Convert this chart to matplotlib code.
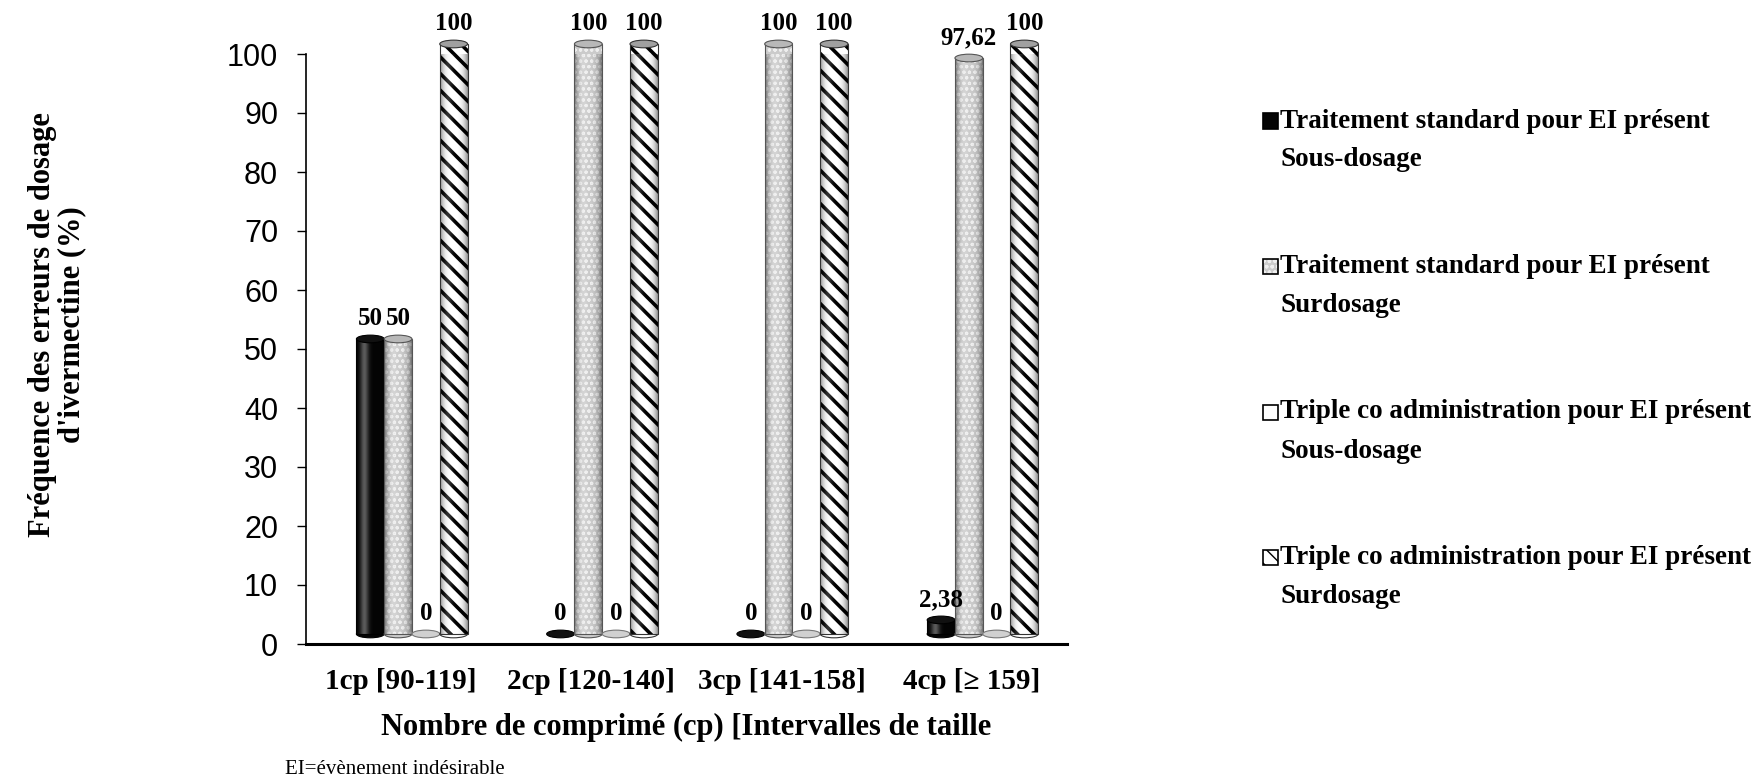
import numpy as np
import matplotlib
matplotlib.use('Agg')
import matplotlib.pyplot as plt
from matplotlib.patches import Ellipse, Rectangle

# data
categories = ['1cp [90-119]', '2cp [120-140]', '3cp [141-158]', '4cp [≥ 159]']
std_sous = [50, 0, 0, 2.38]
std_sur = [50, 100, 100, 97.62]
triple_sous = [0, 0, 0, 0]
triple_sur = [100, 100, 100, 100]
series_labels = [
    'Traitement standard pour EI présent\nSous-dosage',
    'Traitement standard pour EI présent\nSurdosage',
    'Triple co administration pour EI présent\nSous-dosage',
    'Triple co administration pour EI présent\nSurdosage',
]
series_values = [std_sous, std_sur, triple_sous, triple_sur]

SERIF = 'Liberation Serif'
SANS = 'Liberation Sans'

# look of each cylinder series: face, hatch, hatch colour, top colour, edge
styles = [
    dict(face='#050505', hatch=None, hcol=None, top='#111111', edge='#000000', light=0.35),
    dict(face='#cbcbcb', hatch='ooo', hcol='#eeeeee', top='#b8b8b8', edge='#555555', light=0.25),
    dict(face='#ffffff', hatch=None, hcol=None, top='#d0d0d0', edge='#777777', light=0.0),
    dict(face='#ffffff', hatch='\\\\', hcol='#000000', top='#a0a0a0', edge='#333333', light=0.2),
]

bw = 0.146          # bar width in category units
shift = 0.057       # 3d depth shift of the group
depth = 1.7         # 3d lift of the cylinders
ell_h = 1.3         # height of the ellipses in data units


def shade(ax, patch, x0, x1, y0, y1, light, z):
    t = np.linspace(-1, 1, 90)
    dark = np.zeros((1, 90, 4))
    dark[..., 3] = 0.45 * np.abs(t) ** 3
    hi = np.ones((1, 90, 4))
    hi[..., 3] = light * np.exp(-((t + 0.4) / 0.3) ** 2)
    for img in (dark, hi):
        im = ax.imshow(img, extent=[x0, x1, y0, y1], aspect='auto',
                       interpolation='bilinear', zorder=z + 0.1)
        im.set_clip_path(patch)
        im.set_clip_box(None)


fig = plt.figure(figsize=(17.56, 7.80), dpi=100)
ax = fig.add_axes([306 / 1756, 136 / 780, 761 / 1756, 590 / 780])

x = np.arange(len(categories))
for k, (vals, st) in enumerate(zip(series_values, styles)):
    xs = x + shift + (k - 1.5) * bw
    z = 2 + k
    bars = ax.bar(xs, vals, width=bw, bottom=depth, color=st['face'],
                  edgecolor=st['hcol'] if st['hatch'] else st['edge'],
                  hatch=st['hatch'], linewidth=0, zorder=z, clip_on=False)
    for b, v, xc in zip(bars, vals, xs):
        if st['hatch'] and hasattr(b, 'set_hatch_linewidth'):
            b.set_hatch_linewidth(2.6 if st['hatch'].startswith('\\') else 0.8)
        # bottom ellipse
        ax.add_patch(Ellipse((xc, depth), bw, ell_h, facecolor=st['face'] if v > 0 else st['top'],
                             edgecolor=st['edge'], linewidth=0.8, zorder=z - 0.5, clip_on=False))
        if v > 0:
            ax.add_patch(Rectangle((xc - bw / 2, depth), bw, v, fill=False,
                                   edgecolor=st['edge'], linewidth=0.8, zorder=z + 0.2, clip_on=False))
            shade(ax, b, xc - bw / 2, xc + bw / 2, depth, depth + v, st['light'], z)
            ax.add_patch(Ellipse((xc, depth + v), bw, ell_h, facecolor=st['top'],
                                 edgecolor=st['edge'], linewidth=0.8, zorder=z + 0.3, clip_on=False))
        txt = f'{v:g}'.replace('.', ',')
        ax.annotate(txt, (xc, v), xytext=(0, 22), textcoords='offset points',
                    ha='center', va='center', fontsize=18, fontweight='bold',
                    family=SERIF, zorder=10, annotation_clip=False)

ax.set_xlim(-0.5, 3.5)
ax.set_ylim(0, 100)
ax.set_yticks(np.arange(0, 101, 10))
ax.set_xticks(x)
ax.set_xticklabels(categories, fontsize=21, fontweight='bold', family=SERIF)
ax.tick_params(axis='x', length=0, pad=17)
ax.tick_params(axis='y', direction='out', length=6.5, width=1, pad=13.5, labelsize=22)
for lab in ax.get_yticklabels():
    lab.set_family(SANS)

for s in ('top', 'right'):
    ax.spines[s].set_visible(False)
ax.spines['left'].set_linewidth(1.2)
ax.spines['bottom'].set_linewidth(2.2)

ax.set_xlabel('Nombre de comprimé (cp) [Intervalles de taille', fontsize=22,
              fontweight='bold', family=SERIF)
ax.xaxis.set_label_coords(0.5, -0.142)
ax.xaxis.label.set_va('center')

ax.set_ylabel('Fréquence des erreurs de dosage\nd\'ivermectine (%)', fontsize=22,
              fontweight='bold', family=SERIF, linespacing=1.05)
ax.yaxis.set_label_coords(-0.327, 0.542)
ax.yaxis.label.set_va('center')

# legend drawn by hand so the box sits beside the first line
leg_top = 121
leg_step = 145.5
sq = 15
for k, (lab, st) in enumerate(zip(series_labels, styles)):
    yc = leg_top + k * leg_step
    box = ((1263) / 1756, (780 - yc - sq / 2) / 780)
    fig.add_artist(Rectangle(box, sq / 1756, sq / 780, transform=fig.transFigure,
                             facecolor=st['face'],
                             edgecolor=st['hcol'] if st['hatch'] else '#000000',
                             hatch=st['hatch'], linewidth=0))
    fig.add_artist(Rectangle(box, sq / 1756, sq / 780, transform=fig.transFigure,
                             fill=False, edgecolor='#000000', linewidth=1.2))
    for j, line in enumerate(lab.split('\n')):
        fig.text(1280 / 1756, (780 - yc - j * 39) / 780, line, fontsize=19.5,
                 fontweight='bold', family=SERIF, ha='left', va='center')

fig.text(285 / 1756, 10 / 780, 'EI=évènement indésirable', fontsize=15,
         family=SERIF, ha='left', va='center')

fig.savefig('out.png', dpi=100)
